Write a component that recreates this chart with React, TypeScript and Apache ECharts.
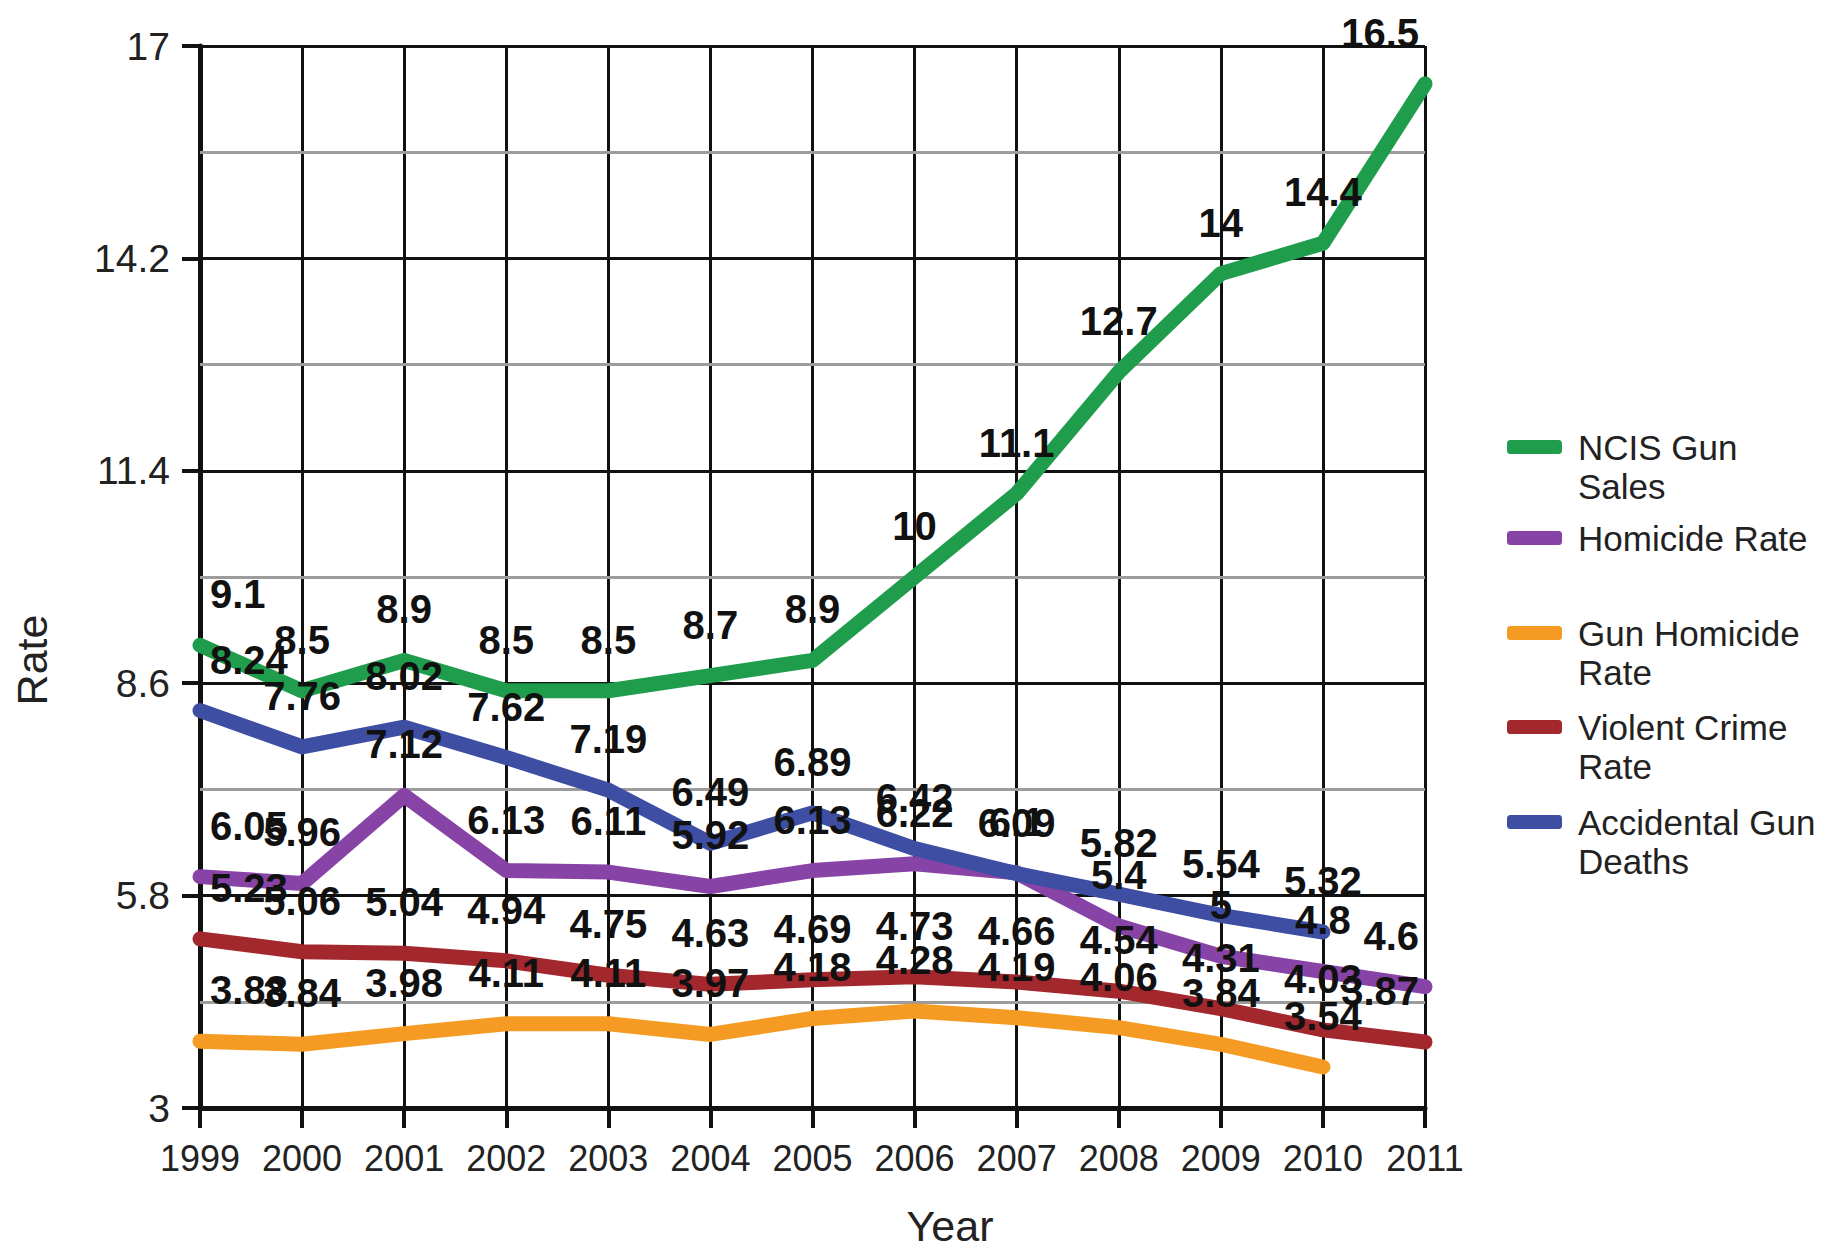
import React, { useEffect, useRef } from "react";
import * as echarts from "echarts";

const years = ["1999", "2000", "2001", "2002", "2003", "2004", "2005", "2006", "2007", "2008", "2009", "2010", "2011"];
const ncisGunSales = [9.1, 8.5, 8.9, 8.5, 8.5, 8.7, 8.9, 10, 11.1, 12.7, 14, 14.4, 16.5];
const homicideRate = [6.05, 5.96, 7.12, 6.13, 6.11, 5.92, 6.13, 6.22, 6.1, 5.4, 5, 4.8, 4.6];
const gunHomicideRate = [3.88, 3.84, 3.98, 4.11, 4.11, 3.97, 4.18, 4.28, 4.19, 4.06, 3.84, 3.54, null];
const violentCrimeRate = [5.23, 5.06, 5.04, 4.94, 4.75, 4.63, 4.69, 4.73, 4.66, 4.54, 4.31, 4.03, 3.87];
const accidentalGunDeaths = [8.24, 7.76, 8.02, 7.62, 7.19, 6.49, 6.89, 6.42, 6.09, 5.82, 5.54, 5.32, null];

const majorTicks = [3, 5.8, 8.6, 11.4, 14.2, 17];
const minorTicks = [4.4, 7.2, 10, 12.8, 15.6];

const seriesNames = ["NCIS Gun Sales", "Homicide Rate", "Gun Homicide Rate", "Violent Crime Rate", "Accidental Gun Deaths"];
const legendLines = [["NCIS Gun", "Sales"], ["Homicide Rate"], ["Gun Homicide", "Rate"], ["Violent Crime", "Rate"], ["Accidental Gun", "Deaths"]];
const seriesValues = [ncisGunSales, homicideRate, gunHomicideRate, violentCrimeRate, accidentalGunDeaths];
const seriesColors = ["#1f9d4d", "#8743a5", "#f59a22", "#a3282e", "#3d4ea3"];

const FONT = "'Liberation Sans', Arial, Helvetica, sans-serif";
const LH = 39;
const legendCenters = [447, 538, 633, 727, 822];

function buildData(values: (number | null)[]) {
  const last = values.length - 1;
  return values.map((v, i) => {
    if (v == null) return v;
    if (i === 0) return { value: v, label: { align: "left", offset: [10, 0] } };
    if (i === last) return { value: v, label: { align: "right", offset: [-6, 0] } };
    return v;
  });
}

export default function App() {
  const ref = useRef<HTMLDivElement>(null);

  useEffect(() => {
    if (!ref.current) return;
    const chart = echarts.init(ref.current, null, { renderer: "svg" });

    const gridSeries = {
      type: "line",
      name: "grid",
      data: [],
      silent: true,
      markLine: {
        z: 1,
        silent: true,
        symbol: ["none", "none"],
        label: { show: false },
        emphasis: { disabled: true },
        data: [
          ...minorTicks.map((v) => ({ yAxis: v, lineStyle: { color: "#9c9c9c", width: 3, type: "solid" } })),
          ...majorTicks.map((v) => ({ yAxis: v, lineStyle: { color: "#111", width: 3, type: "solid" } })),
        ],
      },
    };

    const dataSeries = seriesNames.map((name, idx) => ({
      type: "line",
      name,
      z: 3,
      data: buildData(seriesValues[idx]),
      symbol: "circle",
      symbolSize: 2,
      itemStyle: { color: seriesColors[idx] },
      lineStyle: { color: seriesColors[idx], width: 15, cap: "round", join: "round" },
      label: {
        show: true,
        position: "top",
        distance: 30,
        fontSize: 40,
        fontWeight: "bold",
        color: "#111",
        fontFamily: FONT,
      },
      emphasis: { disabled: true },
    }));

    const legends = seriesNames.map((name, idx) => {
      const lines = legendLines[idx];
      const twoLines = lines.length > 1;
      const cy = legendCenters[idx];
      // a leading empty line keeps the icon level with the first text line
      const text = twoLines ? "\n" + lines.join("\n") : lines[0];
      return {
        data: [name],
        orient: "vertical",
        left: 1507,
        top: twoLines ? cy - 1.5 * LH : cy - LH / 2,
        padding: 0,
        itemWidth: 55,
        itemHeight: 14,
        icon: "roundRect",
        selectedMode: false,
        formatter: () => text,
        textStyle: {
          fontSize: 35,
          lineHeight: LH,
          color: "#222",
          fontFamily: FONT,
          padding: [0, 0, 0, 11],
        },
      };
    });

    chart.setOption({
      animation: false,
      backgroundColor: "#ffffff",
      grid: { left: 200, right: 414, top: 46, bottom: 145, containLabel: false },
      legend: legends,
      xAxis: {
        type: "category",
        data: years,
        boundaryGap: false,
        axisLine: { show: true, lineStyle: { color: "#111", width: 5 } },
        axisTick: { show: true, length: 20, interval: 0, lineStyle: { color: "#111", width: 4 } },
        axisLabel: { fontSize: 36, color: "#222", margin: 32, interval: 0, fontFamily: FONT },
        splitLine: { show: true, interval: 0, lineStyle: { color: "#111", width: 3 } },
      },
      yAxis: {
        type: "value",
        min: 3,
        max: 17,
        axisLine: { show: true, lineStyle: { color: "#111", width: 5 } },
        axisTick: { show: true, customValues: majorTicks, length: 18, lineStyle: { color: "#111", width: 4 } },
        axisLabel: { customValues: majorTicks, fontSize: 39, color: "#222", margin: 30, fontFamily: FONT },
        splitLine: { show: false },
      },
      graphic: [
        {
          type: "text",
          x: 32,
          y: 660,
          rotation: Math.PI / 2,
          style: { text: "Rate", fontSize: 43, fontFamily: FONT, fill: "#222", align: "center", verticalAlign: "middle" },
        },
        {
          type: "text",
          x: 950,
          y: 1226,
          style: { text: "Year", fontSize: 43, fontFamily: FONT, fill: "#222", align: "center", verticalAlign: "middle" },
        },
      ],
      series: [gridSeries, ...dataSeries],
    });

    return () => chart.dispose();
  }, []);

  return (
    <div
      ref={ref}
      style={{ position: "absolute", left: 0, top: 0, width: 1839, height: 1253, background: "#fff" }}
    />
  );
}
